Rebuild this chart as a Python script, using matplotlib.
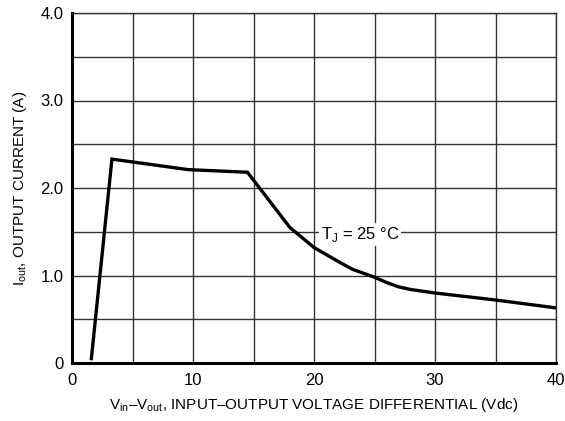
import matplotlib.pyplot as plt
import numpy as np

plt.rcParams["font.family"] = ["Liberation Sans", "DejaVu Sans"]
plt.rcParams["mathtext.fontset"] = "custom"
plt.rcParams["mathtext.rm"] = "Liberation Sans"

# output current vs input-output differential, TJ = 25 C
v_diff = [1.6, 3.3, 9.6, 14.5, 18.0, 20.0, 22.0, 23.2, 25.0, 26.0, 27.0, 28.0, 30.0, 35.0, 40.0]
i_out = [0.05, 2.33, 2.21, 2.18, 1.55, 1.32, 1.16, 1.07, 0.98, 0.92, 0.87, 0.84, 0.80, 0.72, 0.63]

x_ticks = [0, 10, 20, 30, 40]
y_ticks = [0, 1.0, 2.0, 3.0, 4.0]
y_tick_labels = ["0", "1.0", "2.0", "3.0", "4.0"]

fig = plt.figure(figsize=(5.65, 4.21), dpi=100)
ax = fig.add_axes([72 / 565, 1 - 363 / 421, 484 / 565, 350 / 421])

ax.plot(v_diff, i_out, color="black", lw=2.4, solid_joinstyle="miter", zorder=3)

ax.set_xlim(0, 40)
ax.set_ylim(0, 4.0)
ax.set_xticks(x_ticks)
ax.set_xticks(np.arange(5, 40, 10), minor=True)
ax.set_yticks(y_ticks)
ax.set_yticklabels(y_tick_labels)
ax.set_yticks(np.arange(0.5, 4.0, 1.0), minor=True)
ax.tick_params(which="both", length=0, labelsize=12)
ax.tick_params(axis="x", pad=7)
ax.tick_params(axis="y", pad=6)
ax.grid(which="both", color="#333333", lw=1.0, zorder=1)

for side in ["left", "bottom"]:
    ax.spines[side].set_linewidth(2.2)
for side in ["top", "right"]:
    ax.spines[side].set_linewidth(1.0)
    ax.spines[side].set_color("#333333")

ax.text(23.8, 1.47, r"T$_{\mathregular{J}}$ = 25 °C", ha="center", va="center", fontsize=12,
        bbox=dict(facecolor="white", edgecolor="none", pad=1.5), zorder=2)

ax.set_xlabel(r"V$_{\mathregular{in}}$–V$_{\mathregular{out}}$, INPUT–OUTPUT VOLTAGE DIFFERENTIAL (Vdc)",
              fontsize=11, labelpad=6)
ax.set_ylabel(r"I$_{\mathregular{out}}$, OUTPUT CURRENT (A)", fontsize=11, labelpad=8)

fig.savefig("out.png", dpi=100, facecolor="white")
